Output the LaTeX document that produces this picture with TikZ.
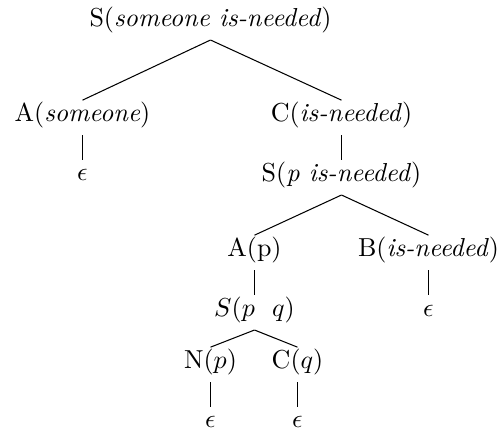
\documentclass[tikz,border=0pt]{standalone}
\begin{document}
\begin{tikzpicture}[x=0.3846pt,y=-0.3846pt,
  tn/.style={anchor=base,inner xsep=1pt,inner ysep=2pt,text height=6pt,text depth=3pt},
  edge/.style={draw=black,line width=0.4pt}]
\useasboundingbox (0,0) rectangle (500,435);
\node[tn] (r) at (210.5,26.5) {S(\textit{someone is-needed})};
\node[tn] (a) at (82.5,121.5) {A(\textit{someone})};
\node[tn] (c) at (341.5,121.5) {C(\textit{is-needed})};
\node[tn] (e1) at (82.5,181) {$\epsilon$};
\node[tn] (s2) at (341.5,181.5) {S(\textit{p is-needed})};
\node[tn] (ap) at (254.5,256.5) {A(p)};
\node[tn] (b) at (428.5,256.5) {B(\textit{is-needed})};
\node[tn] (e2) at (428.5,316.5) {$\epsilon$};
\node[tn] (spq) at (254.5,316.5) {$S(p\ \ q)$};
\node[tn] (n) at (210.5,368.5) {N($p$)};
\node[tn] (cq) at (297.5,368.5) {C($q$)};
\node[tn] (e3) at (210.5,428) {$\epsilon$};
\node[tn] (e4) at (297.5,428) {$\epsilon$};
\draw[edge] (r.south) -- (a.north);
\draw[edge] (r.south) -- (c.north);
\draw[edge] (a.south) -- (e1.north);
\draw[edge] (c.south) -- (s2.north);
\draw[edge] (s2.south) -- (ap.north);
\draw[edge] (s2.south) -- (b.north);
\draw[edge] (b.south) -- (e2.north);
\draw[edge] (ap.south) -- (spq.north);
\draw[edge] (spq.south) -- (n.north);
\draw[edge] (spq.south) -- (cq.north);
\draw[edge] (n.south) -- (e3.north);
\draw[edge] (cq.south) -- (e4.north);
\end{tikzpicture}
\end{document}
